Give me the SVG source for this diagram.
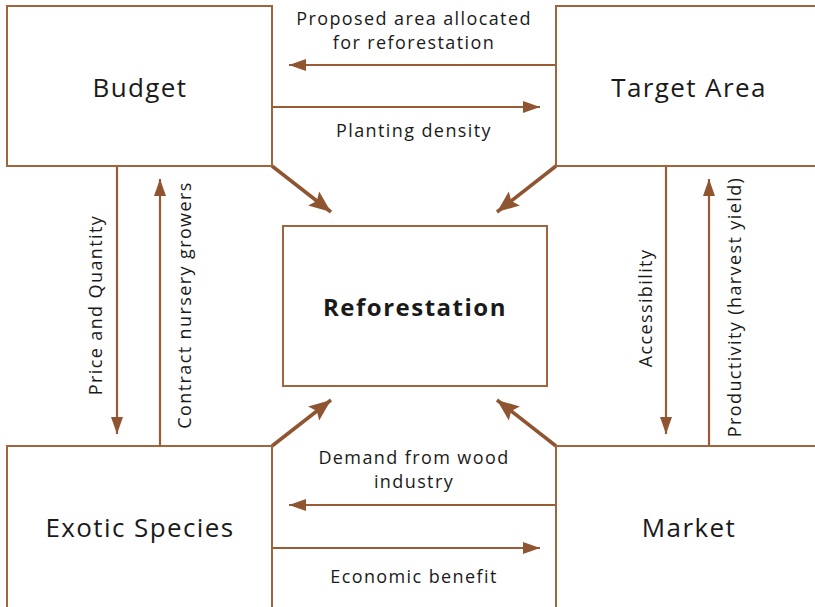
<svg xmlns="http://www.w3.org/2000/svg" width="815" height="607" viewBox="0 0 815 607">
<style>
.box{fill:#fff;stroke:#a0653d;stroke-width:2}
.c{stroke:#9a5c34;stroke-width:2.2;fill:none}
.d{stroke:#8f5530;stroke-width:3.5;fill:none}
.t{font-family:"Open Sans","Noto Sans",sans-serif;fill:#1a1a1a;text-anchor:middle}
.n{font-size:26px;letter-spacing:1.4px}
.l{font-size:18px;letter-spacing:1.4px}
</style>
<defs>
<marker id="a" markerUnits="userSpaceOnUse" markerWidth="20" markerHeight="16" refX="17" refY="8" orient="auto">
<path d="M0,2 L17,8 L0,14 Z" fill="#8f5530"/>
</marker>
<marker id="b" markerUnits="userSpaceOnUse" markerWidth="24" markerHeight="22" refX="22" refY="11" orient="auto">
<path d="M0,2 L22,11 L0,20 L4,11 Z" fill="#8f5530"/>
</marker>
</defs>
<rect width="815" height="607" fill="#fff"/>
<g id="connectors">
<line class="c" x1="556" y1="65" x2="289" y2="65" marker-end="url(#a)"/>
<line class="c" x1="272" y1="107" x2="540" y2="107" marker-end="url(#a)"/>
<line class="c" x1="556" y1="505" x2="289" y2="505" marker-end="url(#a)"/>
<line class="c" x1="272" y1="548" x2="540" y2="548" marker-end="url(#a)"/>
<line class="c" x1="117" y1="166" x2="117" y2="434" marker-end="url(#a)"/>
<line class="c" x1="160" y1="446" x2="160" y2="179" marker-end="url(#a)"/>
<line class="c" x1="666" y1="166" x2="666" y2="434" marker-end="url(#a)"/>
<line class="c" x1="709" y1="446" x2="709" y2="179" marker-end="url(#a)"/>
<line class="d" x1="272" y1="166" x2="331" y2="212" marker-end="url(#b)"/>
<line class="d" x1="556" y1="166" x2="497" y2="212" marker-end="url(#b)"/>
<line class="d" x1="272" y1="446" x2="331" y2="400" marker-end="url(#b)"/>
<line class="d" x1="556" y1="446" x2="497" y2="400" marker-end="url(#b)"/>
</g>
<g id="budget"><rect class="box" x="7" y="6" width="265" height="160"/><text class="t n" x="140" y="97">Budget</text></g>
<g id="target-area"><rect class="box" x="556" y="6" width="270" height="160"/><text class="t n" x="689" y="97">Target Area</text></g>
<g id="exotic-species"><rect class="box" x="7" y="446" width="265" height="170"/><text class="t n" x="140" y="537">Exotic Species</text></g>
<g id="market"><rect class="box" x="556" y="446" width="270" height="170"/><text class="t n" x="689" y="537">Market</text></g>
<g id="reforestation"><rect class="box" x="283" y="226" width="264" height="160"/><text class="t" x="415" y="316" font-size="24" font-weight="bold" letter-spacing="1.5">Reforestation</text></g>
<g id="labels">
<text class="t l" x="414" y="25">Proposed area allocated</text>
<text class="t l" x="414" y="49">for reforestation</text>
<text class="t l" x="414" y="137">Planting density</text>
<text class="t l" x="414" y="464">Demand from wood</text>
<text class="t l" x="414" y="488">industry</text>
<text class="t l" x="414" y="583">Economic benefit</text>
<text class="t l" transform="translate(102,305) rotate(-90)">Price and Quantity</text>
<text class="t l" transform="translate(191,305) rotate(-90)">Contract nursery growers</text>
<text class="t l" transform="translate(652,308) rotate(-90)">Accessibility</text>
<text class="t l" transform="translate(741,307) rotate(-90)">Productivity (harvest yield)</text>
</g>
</svg>
